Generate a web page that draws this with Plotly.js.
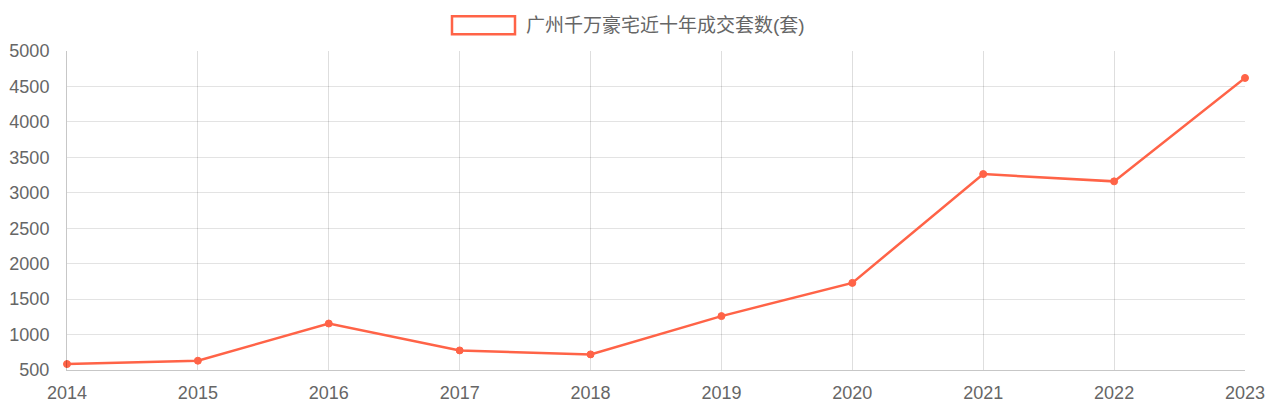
<!DOCTYPE html>
<html>
<head>
<meta charset="utf-8">
<script src="https://cdn.plot.ly/plotly-3.0.1.min.js"></script>
<style>html,body{margin:0;padding:0;background:#fff;}#chart{width:1269px;height:414px;}</style>
</head>
<body>
<div id="chart"></div>
<script>
const years = [2014, 2015, 2016, 2017, 2018, 2019, 2020, 2021, 2022, 2023];
const deals = [584, 631, 1156, 776, 720, 1260, 1729, 3264, 3161, 4620];
const seriesName = '广州千万豪宅近十年成交套数(套)';
const lineColor = 'rgb(255,99,71)';
const fontFam = 'Liberation Sans, Arial, Noto Sans CJK SC, sans-serif';

const trace = {
  x: years,
  y: deals,
  type: 'scatter',
  mode: 'lines+markers',
  name: seriesName,
  line: {color: lineColor, width: 2.5},
  marker: {symbol: 'circle', size: 7, color: lineColor, line: {color: lineColor, width: 1}},
  cliponaxis: false,
  showlegend: false,
  hoverinfo: 'x+y'
};

const layout = {
  width: 1269,
  height: 414,
  margin: {l: 67, r: 24, t: 51, b: 44},
  paper_bgcolor: '#fff',
  plot_bgcolor: '#fff',
  font: {family: fontFam, size: 18, color: '#666'},
  xaxis: {
    range: [2014, 2023],
    tickmode: 'array',
    tickvals: years,
    ticktext: years.map(String),
    showgrid: true,
    gridcolor: 'rgba(0,0,0,0.13)',
    gridwidth: 1,
    zeroline: false,
    showline: true,
    linecolor: 'rgba(0,0,0,0.22)',
    linewidth: 1,
    ticks: 'outside',
    ticklen: 6,
    tickcolor: 'rgba(0,0,0,0)',
    tickfont: {size: 18, color: '#666'}
  },
  yaxis: {
    range: [500, 5000],
    tickmode: 'linear',
    tick0: 500,
    dtick: 500,
    showgrid: true,
    gridcolor: 'rgba(0,0,0,0.11)',
    gridwidth: 1,
    zeroline: false,
    showline: true,
    linecolor: 'rgba(0,0,0,0.22)',
    linewidth: 1,
    ticks: 'outside',
    ticklen: 13,
    tickcolor: 'rgba(0,0,0,0)',
    tickfont: {size: 18, color: '#666'}
  },
  shapes: [{
    type: 'rect',
    xref: 'paper', yref: 'paper',
    x0: (452 - 67) / 1178, x1: (515 - 67) / 1178,
    y0: (370.3 - 34) / 319.6, y1: (370.3 - 16) / 319.6,
    line: {color: lineColor, width: 2.5},
    fillcolor: '#fff'
  }],
  annotations: [{
    xref: 'paper', yref: 'paper',
    x: (524 - 67) / 1178, y: (370.3 - 25) / 319.6,
    xanchor: 'left', yanchor: 'middle',
    text: seriesName,
    showarrow: false,
    font: {family: fontFam, size: 19, color: '#666'}
  }]
};

Plotly.newPlot('chart', [trace], layout, {displayModeBar: false, staticPlot: true});
</script>
</body>
</html>
